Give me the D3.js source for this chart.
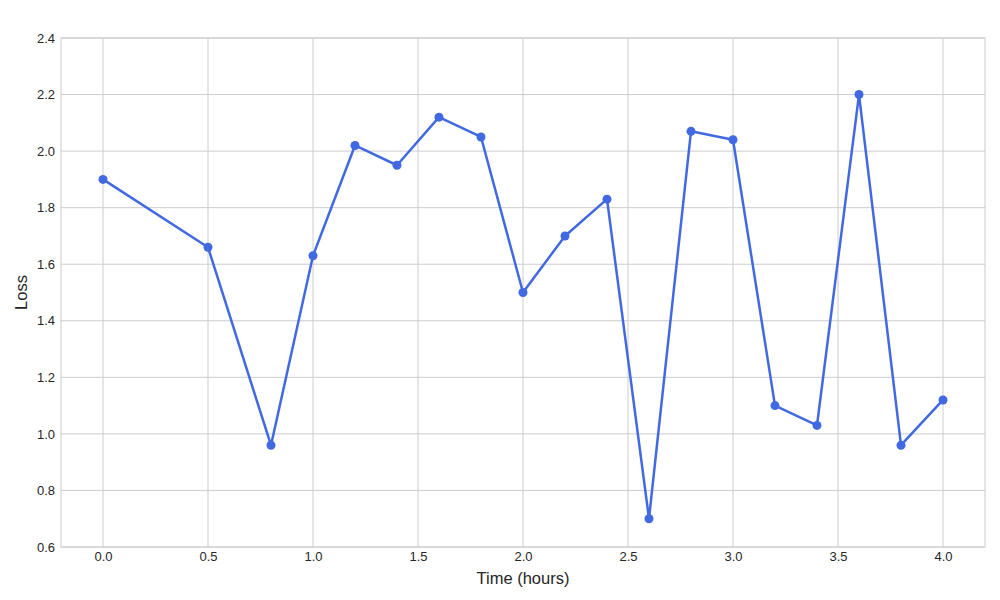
<!DOCTYPE html>
<html>
<head>
<meta charset="utf-8">
<script src="https://cdn.jsdelivr.net/npm/d3@7"></script>
<style>
  body { margin: 0; background: #fff; }
  svg { font-family: "Liberation Sans", Arial, sans-serif; }
</style>
</head>
<body>
<svg id="chart" width="1000" height="600"></svg>
<script>
// data
var hours = [0.0, 0.5, 0.8, 1.0, 1.2, 1.4, 1.6, 1.8, 2.0, 2.2, 2.4, 2.6, 2.8, 3.0, 3.2, 3.4, 3.6, 3.8, 4.0];
var loss  = [1.90, 1.66, 0.96, 1.63, 2.02, 1.95, 2.12, 2.05, 1.50, 1.70, 1.83, 0.70, 2.07, 2.04, 1.10, 1.03, 2.20, 0.96, 1.12];
var xTicks = [0.0, 0.5, 1.0, 1.5, 2.0, 2.5, 3.0, 3.5, 4.0];
var yTicks = [0.6, 0.8, 1.0, 1.2, 1.4, 1.6, 1.8, 2.0, 2.2, 2.4];

var svg = d3.select('#chart');
var margin = {top: 38, right: 15, bottom: 53, left: 61},
    width = 1000 - margin.left - margin.right,
    height = 600 - margin.top - margin.bottom;

var g = svg.append('g').attr('transform', 'translate(' + margin.left + ',' + margin.top + ')');

var x = d3.scaleLinear().domain([-0.2, 4.2]).range([0, width]);
var y = d3.scaleLinear().domain([0.6, 2.4]).range([height, 0]);

// grid
g.append('g')
    .selectAll('line')
    .data(xTicks)
    .join('line')
    .attr('x1', d => x(d)).attr('x2', d => x(d))
    .attr('y1', 0).attr('y2', height)
    .attr('stroke', '#cccccc').attr('stroke-width', 1);

g.append('g')
    .selectAll('line')
    .data(yTicks)
    .join('line')
    .attr('x1', 0).attr('x2', width)
    .attr('y1', d => y(d)).attr('y2', d => y(d))
    .attr('stroke', '#cccccc').attr('stroke-width', 1);

// frame
g.append('rect')
    .attr('width', width).attr('height', height)
    .attr('fill', 'none').attr('stroke', '#cccccc').attr('stroke-width', 1);

// axes (ticks hidden, labels only)
var xAxis = g.append('g')
    .attr('transform', 'translate(0,' + height + ')')
    .call(d3.axisBottom(x).tickValues(xTicks).tickFormat(d3.format('.1f')).tickSize(0).tickPadding(5));
xAxis.select('.domain').remove();
xAxis.selectAll('text').attr('font-size', 13).attr('fill', '#262626').attr('font-family', null);

var yAxis = g.append('g')
    .call(d3.axisLeft(y).tickValues(yTicks).tickFormat(d3.format('.1f')).tickSize(0).tickPadding(6));
yAxis.select('.domain').remove();
yAxis.selectAll('text').attr('font-size', 13).attr('fill', '#262626').attr('font-family', null);

// axis labels
svg.append('text')
    .attr('x', margin.left + width / 2)
    .attr('y', 584)
    .attr('text-anchor', 'middle')
    .attr('font-size', 16.5)
    .attr('fill', '#262626')
    .text('Time (hours)');

svg.append('text')
    .attr('transform', 'translate(27,' + (margin.top + height / 2) + ') rotate(-90)')
    .attr('text-anchor', 'middle')
    .attr('font-size', 16.5)
    .attr('fill', '#262626')
    .text('Loss');

// line
var pts = hours.map((h, i) => [h, loss[i]]);
var line = d3.line().x(d => x(d[0])).y(d => y(d[1]));

g.append('path')
    .datum(pts)
    .attr('fill', 'none')
    .attr('stroke', '#4169e1')
    .attr('stroke-width', 2.5)
    .attr('stroke-linejoin', 'round')
    .attr('d', line);

g.append('g')
    .selectAll('circle')
    .data(pts)
    .join('circle')
    .attr('cx', d => x(d[0]))
    .attr('cy', d => y(d[1]))
    .attr('r', 4.5)
    .attr('fill', '#4169e1');
</script>
</body>
</html>
